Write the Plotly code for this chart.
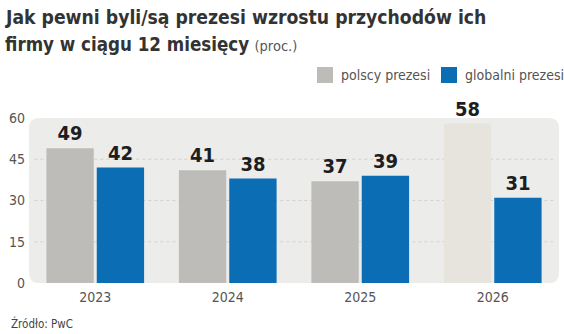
import plotly.graph_objects as go

years = ["2023", "2024", "2025", "2026"]
polish_ceos = [49, 41, 37, 58]
global_ceos = [42, 38, 39, 31]
series_names = ["polscy prezesi", "globalni prezesi"]
y_ticks = [0, 15, 30, 45, 60]

title_line1 = "Jak pewni byli/są prezesi wzrostu przychodów ich"
title_line2 = "firmy w ciągu 12 miesięcy"
title_unit = "(proc.)"
source = "Źródło: PwC"

GREY = "#bebcb9"
GREY_LIGHT = "#e6e4dc"
BLUE = "#0b6db4"
BG = "#ececeb"
FONT = "DejaVu Sans Condensed"

# plot-area geometry in pixels (used to place legend swatches)
L, R, T, B = 29, 5, 118, 51
PW, PH = 564 - L - R, 334 - T - B

def px_x(x):
    return (x - L) / PW

def px_y(y):
    return (334 - B - y) / PH

# last Polish bar is a lighter shade
polish_colors = [GREY] * (len(years) - 1) + [GREY_LIGHT]
label_font = dict(family=FONT, size=20, color="#1e1e1e", weight="bold")

fig = go.Figure()
fig.add_bar(
    x=years, y=polish_ceos, name=series_names[0],
    marker=dict(color=polish_colors, line=dict(width=0)),
    text=[str(v) for v in polish_ceos], textposition="outside",
    textfont=label_font, cliponaxis=False,
)
fig.add_bar(
    x=years, y=global_ceos, name=series_names[1],
    marker=dict(color=BLUE, line=dict(width=0)),
    text=[str(v) for v in global_ceos], textposition="outside",
    textfont=label_font, cliponaxis=False,
)

# rounded background panel behind the plot area
r_x, r_y = 10 / PW, 10 / PH
panel = (
    f"M {r_x},0 L {1 - r_x},0 Q 1,0 1,{r_y} L 1,{1 - r_y} Q 1,1 {1 - r_x},1 "
    f"L {r_x},1 Q 0,1 0,{1 - r_y} L 0,{r_y} Q 0,0 {r_x},0 Z"
)
shapes = [dict(type="path", path=panel, xref="x domain", yref="y domain",
               fillcolor=BG, line=dict(width=0), layer="below")]
# dotted grid lines
for v in y_ticks[1:-1]:
    shapes.append(dict(type="line", xref="x domain", yref="y", x0=0.01, x1=0.99,
                       y0=v, y1=v, line=dict(color="#d2d2d0", width=1.2, dash="dot"),
                       layer="below"))

# legend swatches and labels
legend_items = [(317, GREY, series_names[0]), (441, BLUE, series_names[1])]
annotations = []
for x0, col, name in legend_items:
    shapes.append(dict(type="rect", xref="paper", yref="paper",
                       x0=px_x(x0), x1=px_x(x0 + 16),
                       y0=px_y(83), y1=px_y(67),
                       fillcolor=col, line=dict(width=0)))
    annotations.append(dict(text=name, xref="paper", yref="paper",
                            x=px_x(x0 + 22), y=px_y(75), xanchor="left",
                            yanchor="middle", showarrow=False,
                            font=dict(family=FONT, size=14, color="#555555")))

annotations += [
    dict(text=f"<b>{title_line1}</b>", xref="paper", yref="paper",
         x=px_x(3), y=px_y(17), xanchor="left", yanchor="middle",
         showarrow=False, font=dict(family=FONT, size=19.2, color="#333333")),
    dict(text=f"<b>{title_line2}</b> <span style='font-weight:normal;font-size:14.5px;color:#555555'>{title_unit}</span>",
         xref="paper", yref="paper",
         x=px_x(3), y=px_y(44), xanchor="left", yanchor="middle",
         showarrow=False, font=dict(family=FONT, size=18.6, color="#333333")),
    dict(text=source, xref="paper", yref="paper",
         x=px_x(9), y=px_y(323), xanchor="left", yanchor="middle",
         showarrow=False, font=dict(family=FONT, size=11.5, color="#444444")),
]

fig.update_layout(
    width=564, height=334,
    margin=dict(l=L, r=R, t=T, b=B, pad=0),
    paper_bgcolor="white", plot_bgcolor="rgba(0,0,0,0)",
    barmode="group", bargap=0.24, bargroupgap=0.06,
    showlegend=False,
    shapes=shapes, annotations=annotations,
    font=dict(family=FONT, color="#555555"),
    xaxis=dict(showgrid=False, zeroline=False, showline=False, ticks="",
               tickfont=dict(size=14, color="#555555"), ticklabelstandoff=4),
    yaxis=dict(range=[0, 60], tickvals=y_ticks, showgrid=False, zeroline=False,
               showline=False, ticks="", tickfont=dict(size=14, color="#555555"),
               ticklabelstandoff=3),
)

fig.write_html("out.html")
